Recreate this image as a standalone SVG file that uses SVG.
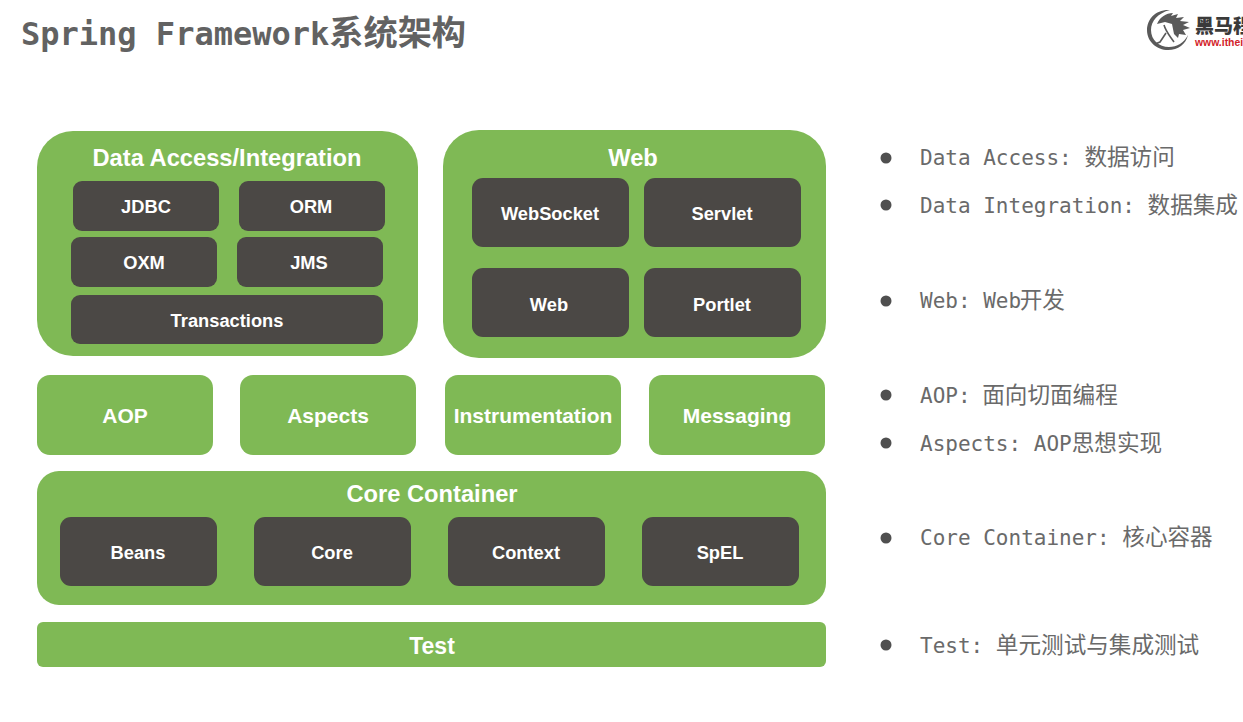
<svg xmlns="http://www.w3.org/2000/svg" width="1243" height="722" viewBox="0 0 1243 722">
<style>
.g{fill:#7fb955}
.d{fill:#4b4845}
text{font-family:"Liberation Sans",Arial,sans-serif;font-weight:700;fill:#fff;text-anchor:middle}
.h{font-size:23.7px}
.a{font-size:18.3px}
.b{font-size:21px}
.tt{font-size:23px}
text.m{font-family:"DejaVu Sans Mono","Noto Sans CJK SC",monospace;font-weight:400;font-size:21px;fill:#6a6a6a;text-anchor:start}
.m .c{font-family:"Noto Sans CJK SC",sans-serif;font-size:22.6px}
text.t{font-family:"DejaVu Sans Mono","Noto Sans CJK SC",monospace;font-weight:700;font-size:32px;fill:#626262;text-anchor:start}
.t .c{font-family:"Noto Sans CJK SC",sans-serif;font-size:34.2px}
.dot{fill:#4f4f4f}
.logo{fill:none;stroke:#5a5a5a;stroke-width:1.6}
</style>
<rect width="1243" height="722" fill="#fff"/>
<text class="t" x="21" y="45">Spring Framework<tspan class="c">系统架构</tspan></text>
<g id="logo">
<path d="M1170 10C1156 9 1147 19 1147 30C1147 42 1157 50 1168 50C1178 50 1186 44 1188 35C1184 43 1177 47 1169 47C1159 47 1151 40 1151 30C1151 21 1158 13 1170 10Z" fill="#5a5a5a"/>
<path d="M1157 24C1160 17 1166 13 1173 13L1171 16L1178 14L1176 18L1184 17L1180 21L1189 22L1183 25L1190 28L1183 30L1186 35L1179 34L1178 38L1174 34L1172 24L1165 22Z" fill="#5a5a5a"/>
<path class="logo" d="M1164 25C1166 32 1170 36 1174 42M1166 33L1160 42L1155 44"/>
<text x="1195" y="33" style="text-anchor:start;font-family:'Noto Sans CJK SC',sans-serif;font-size:19px;font-weight:900;fill:#3a3a3a">黑马程</text>
<text x="1195" y="45.500" style="text-anchor:start;font-size:10.400px;font-weight:700;fill:#d2232a">www.ithei</text>
</g>
<g id="data-access">
<rect class="g" x="37" y="131" width="381" height="225" rx="36"/>
<text class="h" x="227" y="166">Data Access/Integration</text>
</g>
<g id="jdbc"><rect class="d" x="73" y="181" width="146" height="50" rx="9"/><text class="a" x="146" y="213">JDBC</text></g>
<g id="orm"><rect class="d" x="239" y="181" width="146" height="50" rx="9"/><text class="a" x="311" y="213">ORM</text></g>
<g id="oxm"><rect class="d" x="71" y="237" width="146" height="50" rx="9"/><text class="a" x="144" y="269">OXM</text></g>
<g id="jms"><rect class="d" x="237" y="237" width="146" height="50" rx="9"/><text class="a" x="309" y="269">JMS</text></g>
<g id="transactions"><rect class="d" x="71" y="295" width="312" height="49" rx="9"/><text class="a" x="227" y="327">Transactions</text></g>
<g id="web-group">
<rect class="g" x="443" y="130" width="383" height="228" rx="36"/>
<text class="h" x="633" y="166">Web</text>
</g>
<g id="websocket"><rect class="d" x="472" y="178" width="157" height="69" rx="11"/><text class="a" x="550" y="220">WebSocket</text></g>
<g id="servlet"><rect class="d" x="644" y="178" width="157" height="69" rx="11"/><text class="a" x="722" y="220">Servlet</text></g>
<g id="web"><rect class="d" x="472" y="268" width="157" height="69" rx="11"/><text class="a" x="549" y="311">Web</text></g>
<g id="portlet"><rect class="d" x="644" y="268" width="157" height="69" rx="11"/><text class="a" x="722" y="311">Portlet</text></g>
<g id="aop"><rect class="g" x="37" y="375" width="176" height="80" rx="13"/><text class="b" x="125" y="423">AOP</text></g>
<g id="aspects"><rect class="g" x="240" y="375" width="176" height="80" rx="13"/><text class="b" x="328" y="423">Aspects</text></g>
<g id="instrumentation"><rect class="g" x="445" y="375" width="176" height="80" rx="13"/><text class="b" x="533" y="423">Instrumentation</text></g>
<g id="messaging"><rect class="g" x="649" y="375" width="176" height="80" rx="13"/><text class="b" x="737" y="423">Messaging</text></g>
<g id="core-container">
<rect class="g" x="37" y="471" width="789" height="134" rx="22"/>
<text class="h" x="432" y="502">Core Container</text>
</g>
<g id="beans"><rect class="d" x="60" y="517" width="157" height="69" rx="11"/><text class="a" x="138" y="559">Beans</text></g>
<g id="core"><rect class="d" x="254" y="517" width="157" height="69" rx="11"/><text class="a" x="332" y="559">Core</text></g>
<g id="context"><rect class="d" x="448" y="517" width="157" height="69" rx="11"/><text class="a" x="526" y="559">Context</text></g>
<g id="spel"><rect class="d" x="642" y="517" width="157" height="69" rx="11"/><text class="a" x="720" y="559">SpEL</text></g>
<g id="test"><rect class="g" x="37" y="622" width="789" height="45" rx="6"/><text class="tt" x="432" y="654">Test</text></g>
<g id="notes">
<circle class="dot" cx="886" cy="158" r="5.500"/><text class="m" x="920" y="165">Data Access: <tspan class="c">数据访问</tspan></text>
<circle class="dot" cx="886" cy="205" r="5.500"/><text class="m" x="920" y="213">Data Integration: <tspan class="c">数据集成</tspan></text>
<circle class="dot" cx="886" cy="301" r="5.500"/><text class="m" x="920" y="308">Web: Web<tspan class="c" dx="-1.500">开发</tspan></text>
<circle class="dot" cx="886" cy="395" r="5.500"/><text class="m" x="920" y="403">AOP: <tspan class="c" dx="-1">面向切面编程</tspan></text>
<circle class="dot" cx="886" cy="443" r="5.500"/><text class="m" x="920" y="451">Aspects: AOP<tspan class="c">思想实现</tspan></text>
<circle class="dot" cx="886" cy="538" r="5.500"/><text class="m" x="920" y="545">Core Container: <tspan class="c">核心容器</tspan></text>
<circle class="dot" cx="886" cy="645" r="5.500"/><text class="m" x="920" y="653">Test: <tspan class="c">单元测试与集成测试</tspan></text>
</g>
</svg>
